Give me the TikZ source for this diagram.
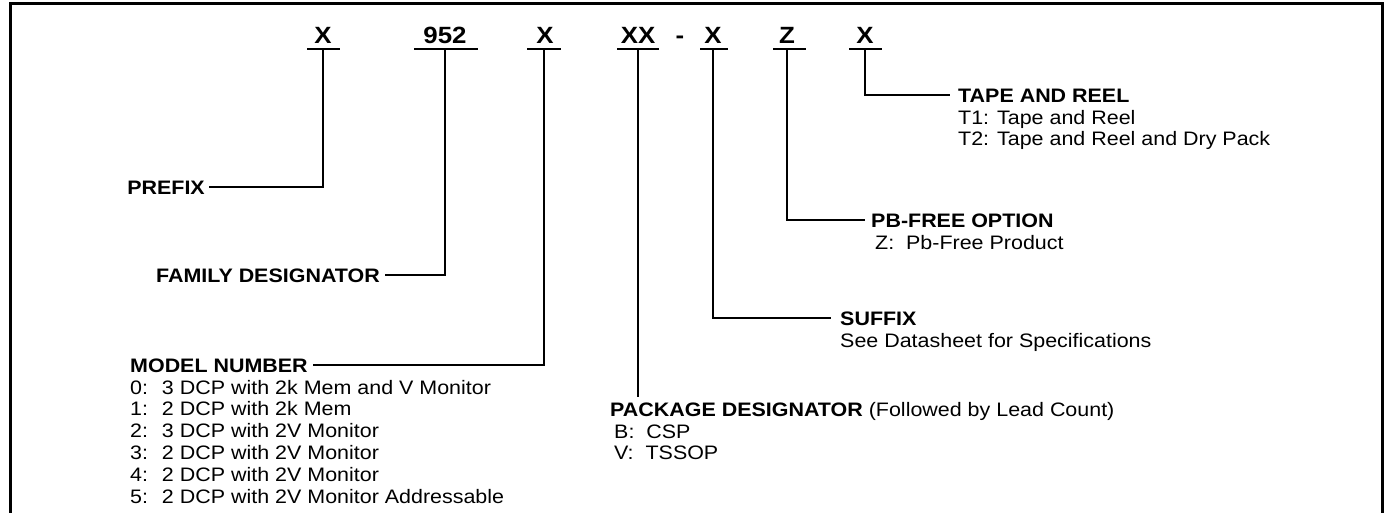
\documentclass[tikz,border=0pt]{standalone}
\usepackage{fontspec}
\setmainfont{Liberation Sans}[FakeStretch=1.1]
\begin{document}
\begin{tikzpicture}[x=1pt,y=-1pt,
  code/.style={inner sep=0pt, anchor=base, font=\fontsize{23.5}{27}\selectfont\bfseries},
  head/.style={inner sep=0pt, anchor=base west, font=\fontsize{19.5}{21.8}\selectfont\bfseries},
  body/.style={inner sep=0pt, anchor=base west, font=\fontsize{19.5}{21.8}\selectfont},
  conn/.style={line width=2pt},
  uline/.style={line width=2pt}]
\useasboundingbox (0,0) rectangle (1385,512);
\begin{scope}
\clip (0,0) rectangle (1385,512);
\draw[line width=3pt] (10,3.5) rectangle (1382.5,540);
\end{scope}

% part number characters
\node[code] (c1) at (323,43) {X};
\node[code] (c2) at (445,43) {952};
\node[code] (c3) at (545,43) {X};
\node[code] (c4) at (638,43) {XX};
\node[code] (cd) at (680,43) {-};
\node[code] (c5) at (713,43) {X};
\node[code] (c6) at (787,43) {Z};
\node[code] (c7) at (865,43) {X};

\draw[uline] (307,49) -- (340,49);
\draw[uline] (414,49) -- (478,49);
\draw[uline] (527,49) -- (561,49);
\draw[uline] (617,49) -- (659,49);
\draw[uline] (700,49) -- (728,49);
\draw[uline] (773,49) -- (806,49);
\draw[uline] (849,49) -- (882,49);

\coordinate (t1) at (323,49);
\coordinate (t2) at (445,49);
\coordinate (t3) at (544,49);
\coordinate (t4) at (638,49);
\coordinate (t5) at (713,49);
\coordinate (t6) at (787,49);
\coordinate (t7) at (865,49);

% labels
\node[head, anchor=base east] (prefix) at (205,194) {PREFIX};
\node[head, anchor=base east] (family) at (380,282) {FAMILY DESIGNATOR};
\node[head] (model) at (130,372) {MODEL NUMBER};
\node[body] (modelb) at (130,394) {\begin{tabular}[t]{@{}l@{}}
0:~ 3 DCP with 2k Mem and V Monitor\\
1:~ 2 DCP with 2k Mem\\
2:~ 3 DCP with 2V Monitor\\
3:~ 2 DCP with 2V Monitor\\
4:~ 2 DCP with 2V Monitor\\
5:~ 2 DCP with 2V Monitor Addressable\end{tabular}};
\node[head] (pkg) at (610,416) {PACKAGE DESIGNATOR \mdseries(Followed by Lead Count)};
\node[body] (pkgb) at (614,438) {\begin{tabular}[t]{@{}l@{}}
B:~ CSP\\
V:~ TSSOP\end{tabular}};
\node[head] (suffix) at (840,325) {SUFFIX};
\node[body] (suffixb) at (840,347) {See Datasheet for Specifications};
\node[head] (pbfree) at (871,227) {PB-FREE OPTION};
\node[body] (pbfreeb) at (875,249) {Z:~ Pb-Free Product};
\node[head] (tape) at (958,102) {TAPE AND REEL};
\node[body] (tapeb) at (958,124) {\begin{tabular}[t]{@{}l@{}}
T1: Tape and Reel\\
T2: Tape and Reel and Dry Pack\end{tabular}};

% connectors
\draw[conn] (t1) |- ([xshift=4pt]prefix.east);
\draw[conn] (t2) |- ([xshift=5pt]family.east);
\draw[conn] (t3) |- ([xshift=5pt]model.east);
\draw[conn] (t4) -- ([yshift=5pt]t4 |- pkg.north);
\draw[conn] (t5) |- ([xshift=-9pt]suffix.west);
\draw[conn] (t6) |- ([xshift=-6pt]pbfree.west);
\draw[conn] (t7) |- ([xshift=-8pt]tape.west);
\end{tikzpicture}
\end{document}
